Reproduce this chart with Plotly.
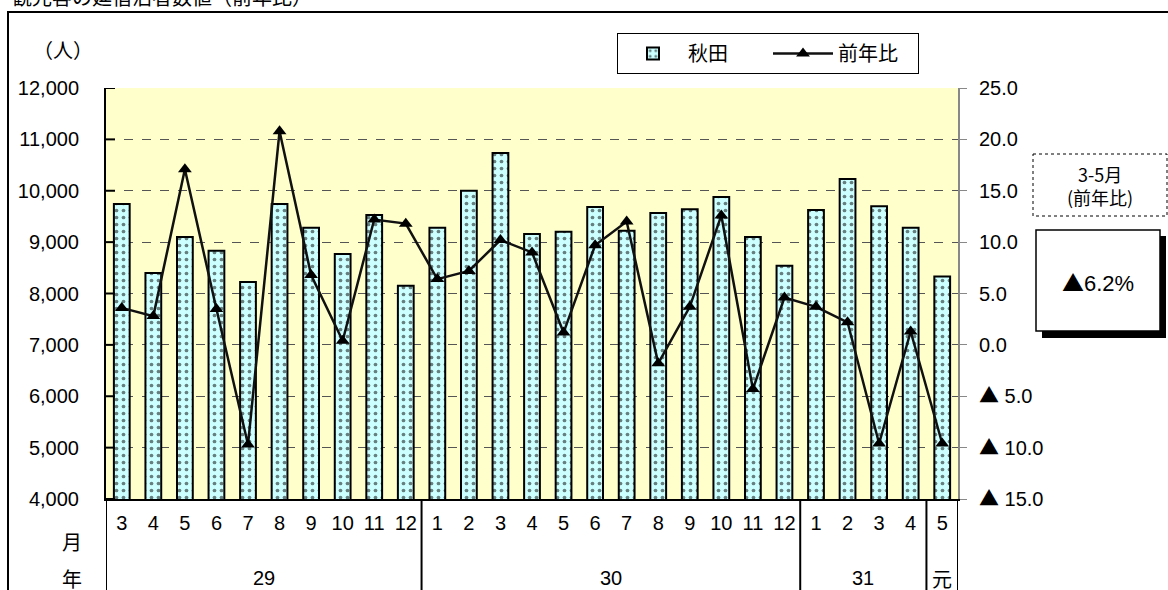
import plotly.graph_objects as go

months = ["3","4","5","6","7","8","9","10","11","12",
          "1","2","3","4","5","6","7","8","9","10","11","12",
          "1","2","3","4","5"]
years = ["29", "30", "31", "元"]
year_counts = [10, 12, 4, 1]
visitors = [9740, 8400, 9100, 8830, 8225, 9740, 9280, 8770, 9530, 8150,
            9280, 10000, 10735, 9160, 9200, 9685, 9220, 9565, 9640, 9880, 9100, 8540,
            9625, 10230, 9700, 9280, 8330]
yoy = [3.6, 2.8, 17.1, 3.5, -9.7, 20.8, 6.8, 0.4, 12.2, 11.8,
       6.4, 7.2, 10.2, 9.0, 1.2, 9.7, 12.0, -1.8, 3.7, 12.6, -4.3, 4.6,
       3.7, 2.2, -9.6, 1.3, -9.6]
y1_vals = [4000, 5000, 6000, 7000, 8000, 9000, 10000, 11000, 12000]
y2_vals = [25, 20, 15, 10, 5, 0, -5, -10, -15]
TRI = '<span style="font-family:Noto Sans CJK JP">▲</span>'
y2_text = ["25.0", "20.0", "15.0", "10.0", "5.0", "0.0",
           TRI + " 5.0", TRI + " 10.0", TRI + " 15.0"]
summary_label = "3-5月<br>(前年比)"
summary_value = TRI + "6.2%"

W, H = 1168, 590
L, R, T, B = 106, 958, 88, 499
FONT = "Liberation Sans, Arial, Noto Sans CJK JP, sans-serif"
JFONT = "Noto Sans CJK JP, sans-serif"

def px(x):
    return (x - L) / (R - L)

def py(y):
    return (B - y) / (B - T)

xs = list(range(len(months)))

fig = go.Figure()
fig.add_trace(go.Bar(
    x=xs, y=visitors, name="秋田",
    marker=dict(color="#CCFFFF", line=dict(color="black", width=2),
                pattern=dict(shape=".", fgcolor="black", bgcolor="#CCFFFF", size=7, solidity=0.22)),
    width=0.5,
))
fig.add_trace(go.Scatter(
    x=xs, y=yoy, name="前年比", yaxis="y2", mode="lines+markers",
    line=dict(color="#111111", width=2.5),
    marker=dict(symbol="triangle-up", size=12, color="black"),
))

shapes = []
annotations = []

# outer frame
shapes.append(dict(type="rect", xref="paper", yref="paper",
                   x0=px(8), x1=px(1180), y0=py(12), y1=py(600),
                   line=dict(color="black", width=2), fillcolor="rgba(0,0,0,0)", layer="below"))

# inside tick marks on the left axis
for v in y1_vals:
    shapes.append(dict(type="line", xref="paper", yref="y", x0=0, x1=px(115), y0=v, y1=v,
                       line=dict(color="black", width=2)))

# category group separators
bounds = [-0.5]
acc = -0.5
for c in year_counts:
    acc += c
    bounds.append(acc)
for b in bounds:
    shapes.append(dict(type="line", xref="x", yref="paper", x0=b, x1=b,
                       y0=0, y1=py(600), line=dict(color="black", width=2)))

# year labels
start = 0
for yr, c in zip(years, year_counts):
    center = start + (c - 1) / 2
    annotations.append(dict(x=center, y=py(578), xref="x", yref="paper", text=yr,
                            showarrow=False, xanchor="center",
                            font=dict(size=20, family=JFONT if yr == "元" else FONT, color="black"),
                            yanchor="middle"))
    start += c

annotations += [
    dict(x=px(72), y=py(541), xref="paper", yref="paper", text="月", showarrow=False,
         font=dict(size=20, family=JFONT, color="black"), xanchor="center", yanchor="middle"),
    dict(x=px(72), y=py(578), xref="paper", yref="paper", text="年", showarrow=False,
         font=dict(size=20, family=JFONT, color="black"), xanchor="center", yanchor="middle"),
    dict(x=px(63), y=py(50), xref="paper", yref="paper", text="（人）", showarrow=False,
         font=dict(size=20, family=JFONT, color="black"), xanchor="center", yanchor="middle"),
    dict(x=px(10), y=py(-4), xref="paper", yref="paper", text="観光客の延宿泊者数値（前年比）", showarrow=False,
         font=dict(size=20, family=JFONT, color="black"), xanchor="left", yanchor="middle"),
]

# summary boxes
shapes.append(dict(type="rect", xref="paper", yref="paper",
                   x0=px(1033), x1=px(1167), y0=py(154), y1=py(216),
                   line=dict(color="black", width=1, dash="dot"), fillcolor="white"))
annotations.append(dict(x=px(1100), y=py(185), xref="paper", yref="paper", text=summary_label,
                        showarrow=False, align="center", xanchor="center",
                        font=dict(size=18, family=JFONT, color="black"), yanchor="middle"))
shapes.append(dict(type="rect", xref="paper", yref="paper",
                   x0=px(1042), x1=px(1166), y0=py(236), y1=py(338),
                   line=dict(color="black", width=0), fillcolor="black"))
shapes.append(dict(type="rect", xref="paper", yref="paper",
                   x0=px(1036), x1=px(1160), y0=py(230), y1=py(331),
                   line=dict(color="black", width=1.5), fillcolor="white"))
annotations.append(dict(x=px(1098), y=py(281), xref="paper", yref="paper", text=summary_value,
                        showarrow=False, xanchor="center",
                        font=dict(size=22, family=FONT, color="black"), yanchor="middle"))

fig.update_layout(
    width=W, height=H,
    margin=dict(l=L, r=W - R, t=T, b=H - B, pad=0),
    paper_bgcolor="white", plot_bgcolor="#FFFFCC",
    font=dict(family=FONT, size=20, color="black"),
    showlegend=True,
    legend=dict(orientation="h", x=px(617), y=py(33), xanchor="left", yanchor="top",
                bordercolor="black", borderwidth=1, bgcolor="white",
                font=dict(size=20, family=JFONT), itemwidth=60, entrywidth=75,
                traceorder="normal"),
    xaxis=dict(range=[-0.5, len(months) - 0.5], tickmode="array", tickvals=xs, ticktext=months,
               showgrid=False, showline=True, linecolor="black", linewidth=2, ticks="",
               ticklabelstandoff=5, zeroline=False, tickfont=dict(size=20)),
    yaxis=dict(range=[4000, 12000], tickmode="array", tickvals=y1_vals, tickformat=",d",
               showline=True, linecolor="black", linewidth=2,
               ticks="outside", ticklen=21, tickcolor="rgba(0,0,0,0)", showgrid=True,
               gridcolor="#555555", griddash="dash", gridwidth=1, zeroline=False,
               tickfont=dict(size=20)),
    yaxis2=dict(range=[-15, 25], overlaying="y", side="right", tickmode="array",
                tickvals=y2_vals, ticktext=y2_text, showgrid=False, zeroline=False,
                showline=True, linecolor="#888888", linewidth=2, ticks="outside", ticklen=7,
                tickcolor="#888888", ticklabelstandoff=8, tickfont=dict(size=20)),
    bargap=0.5,
    shapes=shapes, annotations=annotations,
)

fig.write_html("out.html", config={"displayModeBar": False},
               post_script="document.body.style.margin='0';")
